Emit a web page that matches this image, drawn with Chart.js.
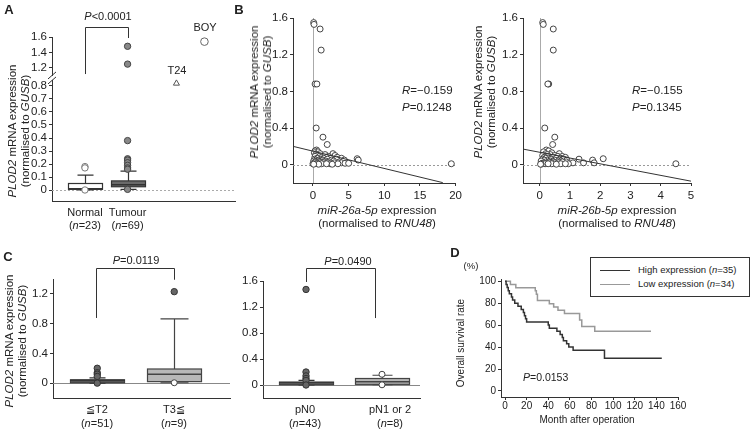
<!DOCTYPE html>
<html>
<head>
<meta charset="utf-8">
<script src="https://cdn.jsdelivr.net/npm/chart.js@4.4.1/dist/chart.umd.min.js"></script>
<style>
body { margin: 0; background: #fff; }
#wrap { position: relative; width: 752px; height: 432px; overflow: hidden; font-family: "Liberation Sans", Arial, sans-serif; color: #222; }
#wrap canvas { position: absolute; }
.tx { position: absolute; white-space: nowrap; line-height: 13px; text-align: center; }
#legend { position: absolute; left: 590px; top: 257px; width: 160px; height: 40px; border: 1px solid #333; box-sizing: border-box; }
#legend .ln { position: absolute; left: 9px; width: 30px; height: 0; }
#legend .lt { position: absolute; left: 47px; font-size: 9.5px; line-height: 11px; white-space: nowrap; }
</style>
</head>
<body>
<div id="wrap"><div id="legend"></div></div>
<script>
const FONT = '"Liberation Sans", Arial, sans-serif';
const INK = '#222';

// ---- A: PLOD2 normal vs tumour (+ cell lines) ----
const A_groups = ['Normal', 'Tumour'];
const A_n = [23, 69];
const A_q1 = [0.005, 0.025];
const A_med = [0.01, 0.04];
const A_q3 = [0.05, 0.07];
const A_lo = [0, 0.005];
const A_hi = [0.115, 0.145];
const A_outNormal = [0.18, 0.17, 0];
const A_outTumour = [1.48, 1.25, 0.38, 0.24, 0.23, 0.21, 0.19, 0.17, 0.16, 0.005];
const A_cells = ['T24', 'BOY'];
const A_cellVals = [0.82, 1.54];
const A_yTicks = [0, 0.1, 0.2, 0.3, 0.4, 0.5, 0.6, 0.7, 0.8, 1.2, 1.4, 1.6];

// ---- B: PLOD2 vs miR-26a-5p / miR-26b-5p ----
const B_plod2 = [1.55, 1.53, 1.48, 1.25, 0.88, 0.88, 0.40, 0.30, 0.22, 0.01, 0.065, 0.05,
  0.16, 0.15, 0.14, 0.13, 0.12, 0.12, 0.11, 0.11, 0.10, 0.10,
  0.09, 0.09, 0.09, 0.08, 0.08, 0.08, 0.07, 0.07, 0.07, 0.07,
  0.06, 0.06, 0.06, 0.06, 0.05, 0.05, 0.05, 0.05, 0.05, 0.04,
  0.04, 0.04, 0.04, 0.03, 0.03, 0.03, 0.03, 0.03, 0.03, 0.02,
  0.02, 0.02, 0.02, 0.02, 0.02, 0.02, 0.015, 0.015, 0.01, 0.01,
  0.01, 0.01, 0.01, 0.01, 0.005, 0.005, 0.005];
const B_mir26a = [0.1, 0.15, 1.0, 1.15, 0.3, 0.55, 0.45, 1.4, 2.0, 19.4, 6.2, 6.35,
  0.5, 0.3, 0.7, 0.2, 1.0, 2.8, 0.4, 1.7, 0.6, 3.1,
  0.9, 2.2, 0.3, 1.2, 1.9, 3.4, 0.6, 1.5, 2.5, 4.0,
  0.2, 1.1, 2.0, 3.3, 0.8, 1.4, 2.6, 0.4, 4.4, 1.8,
  0.1, 2.9, 0.7, 1.3, 0.3, 2.3, 3.7, 0.9, 1.6, 0.5,
  1.0, 2.1, 3.0, 4.0, 0.2, 1.5, 4.5, 5.0, 0.6, 1.2,
  2.4, 3.5, 0.0, 1.9, 0.8, 2.7, 0.1];
const B_mir26b = [0.1, 0.12, 0.45, 0.45, 0.3, 0.27, 0.17, 0.5, 0.43, 4.5, 2.1, 1.75,
  0.22, 0.3, 0.13, 0.4, 0.2, 0.65, 0.35, 0.25, 0.5, 0.1,
  0.6, 0.28, 0.75, 0.15, 0.45, 0.85, 0.3, 0.55, 0.7, 0.2,
  0.1, 0.38, 0.8, 1.3, 0.5, 0.9, 0.25, 0.65, 0.15, 0.42,
  0.35, 0.7, 0.05, 0.58, 0.2, 0.45, 0.88, 0.3, 0.75, 0.12,
  1.1, 1.8, 1.45, 0.5, 0.32, 0.62, 0.22, 0.08, 0.4, 0.95,
  0.18, 0.7, 0.28, 0.85, 0.05, 0.55, 0.03];
const B1_fitX = [-2.8, 18.2];
const B1_fitY = [0.2, -0.196];
const B2_fitX = [-0.55, 5];
const B2_fitY = [0.17, -0.18];
const B_yTicks = [0, 0.4, 0.8, 1.2, 1.6];
const B1_xTicks = [0, 5, 10, 15, 20];
const B2_xTicks = [0, 1, 2, 3, 4, 5];

// ---- C: T stage / N stage ----
const C1_groups = ['≦T2', 'T3≦'];
const C1_n = [51, 9];
const C1_q1 = [0.005, 0.02];
const C1_med = [0.02, 0.12];
const C1_q3 = [0.045, 0.19];
const C1_lo = [0, 0.005];
const C1_hi = [0.07, 0.865];
const C1_outDark = [[0.2, 0.14, 0.12, 0.09, 0], [1.23]];
const C1_outOpen = [[], [0.005]];
const C1_yTicks = [0, 0.4, 0.8, 1.2];

const C2_groups = ['pN0', 'pN1 or 2'];
const C2_n = [43, 8];
const C2_q1 = [0.005, 0.01];
const C2_med = [0.02, 0.05];
const C2_q3 = [0.045, 0.1];
const C2_lo = [0, 0.005];
const C2_hi = [0.07, 0.15];
const C2_outDark = [[1.47, 0.2, 0.14, 0.1, 0.07, 0], []];
const C2_outOpen = [[], [0.165, 0.003]];
const C2_yTicks = [0, 0.4, 0.8, 1.2, 1.6];

// ---- D: overall survival ----
const D_highT = [0, 1, 2, 3, 4, 6, 7, 9, 12, 15, 17, 18, 19, 20, 40, 41, 48, 51, 53, 54, 57, 59, 63, 92, 145];
const D_highS = [100, 97.1, 94.3, 91.4, 88.6, 85.7, 82.9, 80, 77.1, 74.3, 71.4, 68.6, 65.7, 62.9, 60, 57.1, 54.3, 51.4, 48.6, 45.7, 42.9, 40, 37.1, 29.7, 29.7];
const D_lowT = [0, 5, 10, 28, 29, 30, 41, 45, 49, 55, 69, 71, 83, 135];
const D_lowS = [100, 97.1, 94.1, 91.2, 88.2, 82.4, 79.4, 76.5, 73.5, 70.6, 64.7, 58.8, 54.5, 54.5];
const D_xTicks = [0, 20, 40, 60, 80, 100, 120, 140, 160];
const D_yTicks = [0, 20, 40, 60, 80, 100];

// layout helpers (x positions of groups on each panel's 0..10 axis)
const A_pos = [1.8, 4.13, 6.8, 8.33];
const C1_pos = [2.5, 6.85];
const C2_pos = [2.74, 7.58];

// broken axis in A: values above the break are compressed
function brk(v) { return v <= 1 ? v : 0.9385 + (v - 1.2) * 0.596; }

Chart.defaults.font.family = FONT;
Chart.defaults.color = INK;
Chart.defaults.animation = false;
Chart.defaults.plugins.legend.display = false;
Chart.defaults.plugins.tooltip.enabled = false;

const refLines = {
  id: 'refLines',
  beforeDatasetsDraw(chart, args, opts) {
    const { ctx, chartArea: a } = chart;
    const x = chart.scales.x, y = chart.scales.y;
    ctx.save();
    (opts.h || []).forEach(l => {
      const py = Math.round(y.getPixelForValue(l.y)) + 0.5;
      ctx.strokeStyle = l.color; ctx.lineWidth = 1; ctx.setLineDash(l.dash || []);
      ctx.beginPath(); ctx.moveTo(a.left, py); ctx.lineTo(a.right, py); ctx.stroke();
    });
    (opts.v || []).forEach(l => {
      const px = Math.round(x.getPixelForValue(l.x)) + 0.5;
      ctx.strokeStyle = l.color; ctx.lineWidth = 1; ctx.setLineDash(l.dash || []);
      ctx.beginPath(); ctx.moveTo(px, a.bottom); ctx.lineTo(px, a.top); ctx.stroke();
    });
    ctx.restore();
  }
};

const boxes = {
  id: 'boxes',
  beforeDatasetsDraw(chart, args, opts) {
    const { ctx } = chart;
    const x = chart.scales.x, y = chart.scales.y;
    (opts.items || []).forEach(b => {
      const cx = Math.round(x.getPixelForValue(b.x)) + 0.5;
      const yq1 = y.getPixelForValue(b.q1), yq3 = y.getPixelForValue(b.q3);
      const ylo = y.getPixelForValue(b.lo), yhi = y.getPixelForValue(b.hi);
      const ym = y.getPixelForValue(b.med);
      ctx.save();
      ctx.strokeStyle = b.stroke; ctx.lineWidth = 1.2;
      ctx.beginPath();
      ctx.moveTo(cx, yq3); ctx.lineTo(cx, yhi);
      ctx.moveTo(cx - b.cap / 2, yhi); ctx.lineTo(cx + b.cap / 2, yhi);
      ctx.moveTo(cx, yq1); ctx.lineTo(cx, ylo);
      ctx.moveTo(cx - b.cap / 2, ylo); ctx.lineTo(cx + b.cap / 2, ylo);
      ctx.stroke();
      ctx.fillStyle = b.fill;
      ctx.fillRect(cx - b.w / 2, yq3, b.w, yq1 - yq3);
      ctx.strokeRect(cx - b.w / 2, yq3, b.w, yq1 - yq3);
      ctx.strokeStyle = b.medColor; ctx.lineWidth = 1.5;
      ctx.beginPath(); ctx.moveTo(cx - b.w / 2, ym); ctx.lineTo(cx + b.w / 2, ym); ctx.stroke();
      ctx.restore();
    });
  }
};

const bracket = {
  id: 'bracket',
  afterDraw(chart, args, b) {
    if (b.x1 === undefined) return;
    const { ctx } = chart;
    const x = chart.scales.x, y = chart.scales.y;
    const x1 = Math.round(x.getPixelForValue(b.x1)) + 0.5, x2 = Math.round(x.getPixelForValue(b.x2)) + 0.5;
    const yt = Math.round(y.getPixelForValue(b.top)) + 0.5;
    ctx.save();
    ctx.strokeStyle = '#333'; ctx.lineWidth = 1;
    ctx.beginPath();
    ctx.moveTo(x1, y.getPixelForValue(b.y1)); ctx.lineTo(x1, yt);
    ctx.lineTo(x2, yt); ctx.lineTo(x2, y.getPixelForValue(b.y2));
    ctx.stroke();
    ctx.restore();
  }
};

const axisBreak = {
  id: 'axisBreak',
  afterDraw(chart, args, o) {
    if (o.at === undefined) return;
    const { ctx, chartArea: a } = chart;
    const py = chart.scales.y.getPixelForValue(o.at);
    ctx.save();
    ctx.fillStyle = '#fff';
    ctx.fillRect(a.left - 3, py - 2, 6, 4);
    ctx.strokeStyle = '#333'; ctx.lineWidth = 1;
    ctx.beginPath();
    ctx.moveTo(a.left - 4, py + 1); ctx.lineTo(a.left + 4, py - 6);
    ctx.moveTo(a.left - 4, py + 6); ctx.lineTo(a.left + 4, py - 1);
    ctx.stroke();
    ctx.restore();
  }
};

Chart.register(refLines, boxes, bracket, axisBreak);

const wrap = document.getElementById('wrap');

function makeChart(left, top, w, h, config) {
  const c = document.createElement('canvas');
  c.width = w; c.height = h;
  c.style.left = left + 'px'; c.style.top = top + 'px';
  c.style.width = w + 'px'; c.style.height = h + 'px';
  wrap.appendChild(c);
  config.options.responsive = false;
  config.options.devicePixelRatio = 1;
  return new Chart(c, config);
}

function yAxis(min, max, ticks, width, size, labels) {
  return {
    type: 'linear', min, max,
    afterFit: s => { s.width = width; },
    afterBuildTicks: s => { s.ticks = ticks.map(v => ({ value: v })); },
    ticks: {
      font: { size }, color: INK, padding: 2, autoSkip: false,
      callback: (v, i) => labels ? labels[i] : String(ticks[i])
    },
    grid: { display: true, drawOnChartArea: false, drawTicks: true, tickLength: 3, color: '#333' },
    border: { display: true, color: '#333', width: 1 }
  };
}

function xAxis(min, max, ticks, height, size, pad) {
  const ax = {
    type: 'linear', min, max,
    afterFit: s => { s.height = height; },
    border: { display: true, color: '#333', width: 1 }
  };
  if (ticks) {
    ax.afterBuildTicks = s => { s.ticks = ticks.map(v => ({ value: v })); };
    ax.ticks = { font: { size }, color: INK, padding: pad, maxRotation: 0, autoSkip: false, callback: (v, i) => String(ticks[i]) };
    ax.grid = { display: true, drawOnChartArea: false, drawTicks: true, tickLength: 3, color: '#333' };
  } else {
    ax.ticks = { display: false };
    ax.grid = { display: false };
  }
  return ax;
}

function pts(xv, ys) { return ys.map(v => ({ x: xv, y: v })); }

// ---------- A ----------
makeChart(0, 0, 240, 215, {
  type: 'scatter',
  data: {
    datasets: [
      { data: pts(A_pos[0], A_outNormal.map(brk)), pointRadius: 3.2, borderColor: '#777', backgroundColor: '#fff', borderWidth: 1 },
      { data: pts(A_pos[1], A_outTumour.map(brk)), pointRadius: 3.2, borderColor: '#444', backgroundColor: '#888', borderWidth: 1 },
      { data: [{ x: A_pos[2], y: brk(A_cellVals[0]) }], pointStyle: 'triangle', pointRadius: 3.5, borderColor: '#555', backgroundColor: '#fff', borderWidth: 1 },
      { data: [{ x: A_pos[3], y: brk(A_cellVals[1]) }], pointRadius: 3.8, borderColor: '#666', backgroundColor: '#fff', borderWidth: 1 }
    ]
  },
  options: {
    layout: { padding: { top: 37, right: 5, bottom: 0, left: 0 } },
    scales: {
      x: xAxis(0, 10, null, 14),
      y: yAxis(-0.0846, brk(1.6), A_yTicks.map(brk), 52, 11.5, A_yTicks.map(String))
    },
    plugins: {
      refLines: { h: [{ y: 0, color: '#aaa', dash: [2, 2] }] },
      boxes: {
        items: [0, 1].map(i => ({
          x: A_pos[i], q1: A_q1[i], med: A_med[i], q3: A_q3[i], lo: A_lo[i], hi: A_hi[i],
          w: 34, cap: 16, fill: i ? '#6a6a6a' : '#fff', stroke: '#333', medColor: '#333'
        }))
      },
      bracket: { x1: A_pos[0], x2: A_pos[1], y1: 0.892, y2: 1.169, top: 1.254 },
      axisBreak: { at: 0.862 }
    }
  }
});

// ---------- B ----------
function scatterB(left, w, yW, padR, xs, fx, fy, xmin, xmax, xt) {
  return makeChart(left, 0, w, 205, {
    type: 'scatter',
    data: {
      datasets: [
        { data: fx.map((v, i) => ({ x: v, y: fy[i] })), showLine: true, pointRadius: 0, borderColor: '#333', borderWidth: 1 },
        { data: xs.map((v, i) => ({ x: v, y: B_plod2[i] })), pointRadius: 3, borderColor: '#444', backgroundColor: '#fff', borderWidth: 1 }
      ]
    },
    options: {
      layout: { padding: { top: 18, right: padR, bottom: 5, left: 0 } },
      scales: {
        x: xAxis(xmin, xmax, xt, 17, 11.5, 3),
        y: yAxis(-0.2, 1.6, B_yTicks, yW, 11.5)
      },
      plugins: {
        refLines: { h: [{ y: 0, color: '#999', dash: [2, 2] }], v: [{ x: 0, color: '#aaa' }] }
      }
    }
  });
}
scatterB(240, 225, 53, 8, B_mir26a, B1_fitX, B1_fitY, -2.8, 20, B1_xTicks);
scatterB(495, 257, 28, 61, B_mir26b, B2_fitX, B2_fitY, -0.55, 5, B2_xTicks);

// ---------- C ----------
function boxChart(left, w, yW, padTop, ymax, yt, pos, q1, med, q3, lo, hi, outDark, outOpen, caps, br) {
  const ds = [];
  [0, 1].forEach(i => {
    ds.push({ data: pts(pos[i], outDark[i]), pointRadius: 3.2, borderColor: '#333', backgroundColor: '#666', borderWidth: 1 });
    ds.push({ data: pts(pos[i], outOpen[i]), pointRadius: 3, borderColor: '#444', backgroundColor: '#fff', borderWidth: 1 });
  });
  return makeChart(left, 240, w, 192, {
    type: 'scatter',
    data: { datasets: ds },
    options: {
      layout: { padding: { top: padTop, right: 10, bottom: 0, left: 0 } },
      scales: {
        x: xAxis(0, 10, null, 34),
        y: yAxis(-0.2, ymax, yt, yW, 11.5)
      },
      plugins: {
        refLines: { h: [{ y: 0, color: '#888' }] },
        boxes: {
          items: [0, 1].map(i => ({
            x: pos[i], q1: q1[i], med: med[i], q3: q3[i], lo: lo[i], hi: hi[i],
            w: 54, cap: caps[i], fill: i ? '#b8b8b8' : '#3a3a3a', stroke: i ? '#444' : '#333', medColor: i ? '#444' : '#555'
          }))
        },
        bracket: br
      }
    }
  });
}
boxChart(0, 240, 53, 39, 1.4, C1_yTicks, C1_pos, C1_q1, C1_med, C1_q3, C1_lo, C1_hi, C1_outDark, C1_outOpen,
  [16, 28], { x1: 2.45, x2: 6.85, y1: 0.876, y2: 1.39, top: 1.55 });
boxChart(240, 190, 23, 41, 1.6, C2_yTicks, C2_pos, C2_q1, C2_med, C2_q3, C2_lo, C2_hi, C2_outDark, C2_outOpen,
  [16, 20], { x1: 2.74, x2: 7.13, y1: 1.585, y2: 1.03, top: 1.8 });

// ---------- D ----------
makeChart(460, 240, 292, 192, {
  type: 'scatter',
  data: {
    datasets: [
      { data: D_highT.map((t, i) => ({ x: t, y: D_highS[i] })), showLine: true, stepped: true, pointRadius: 0, borderColor: '#333', borderWidth: 1.5 },
      { data: D_lowT.map((t, i) => ({ x: t, y: D_lowS[i] })), showLine: true, stepped: true, pointRadius: 0, borderColor: '#999', borderWidth: 1.5 }
    ]
  },
  options: {
    layout: { padding: { top: 39, right: 74, bottom: 15, left: 0 } },
    scales: {
      x: xAxis(-3.7, 160, D_xTicks, 20, 10, 0),
      y: yAxis(-5.5, 102, D_yTicks, 41, 10)
    }
  }
});

// ---------- text ----------
function label(html, x, y, o = {}) {
  const d = document.createElement('div');
  d.className = 'tx';
  d.innerHTML = html;
  d.style.left = x + 'px';
  d.style.top = y + 'px';
  d.style.fontSize = (o.size || 11.5) + 'px';
  if (o.bold) d.style.fontWeight = 'bold';
  let tr = o.left ? 'translate(0,-50%)' : 'translate(-50%,-50%)';
  if (o.rot) tr += ' rotate(-90deg)';
  d.style.transform = tr;
  wrap.appendChild(d);
}
const yTitle = '<i>PLOD2</i> mRNA expression<br>(normalised to <i>GUSB</i>)';

label('A', 9, 9, { bold: true, size: 13 });
label('<i>P</i>&lt;0.0001', 108, 16, { size: 11 });
label(A_cells[1], 205, 27, { size: 11 });
label(A_cells[0], 177, 70, { size: 11 });
A_groups.forEach((g, i) => {
  const px = 52 + A_pos[i] * 18.3;
  label(g, px, 212, { size: 11 });
  label('(<i>n</i>=' + A_n[i] + ')', px, 225, { size: 11 });
});
label(yTitle, 19, 131, { rot: true });

label('B', 239, 9, { bold: true, size: 13 });
label(yTitle, 261, 92, { rot: true });
label(yTitle, 485, 92, { rot: true });
label('<i>R</i>=−0.159', 402, 90, { left: true });
label('<i>P</i>=0.1248', 402, 107, { left: true });
label('<i>R</i>=−0.155', 632, 90, { left: true });
label('<i>P</i>=0.1345', 632, 107, { left: true });
label('<i>miR-26a-5p</i> expression<br>(normalised to <i>RNU48</i>)', 377, 217);
label('<i>miR-26b-5p</i> expression<br>(normalised to <i>RNU48</i>)', 617, 217);

label('C', 8, 256, { bold: true, size: 13 });
label(yTitle, 16, 341, { rot: true });
label('<i>P</i>=0.0119', 136, 260, { size: 11 });
label('<i>P</i>=0.0490', 348, 261, { size: 11 });
[[C1_groups, C1_n, [97, 174]], [C2_groups, C2_n, [305, 390]]].forEach(([gs, ns, xs]) => {
  gs.forEach((g, i) => {
    label(g, xs[i], 409, { size: 11 });
    label('(<i>n</i>=' + ns[i] + ')', xs[i], 423, { size: 11 });
  });
});

label('D', 455, 252, { bold: true, size: 13 });
label('(%)', 471, 265, { size: 9.5 });
label('Overall survival rate', 460, 343, { rot: true, size: 10 });
label('Month after operation', 587, 419, { size: 10 });
label('<i>P</i>=0.0153', 523, 377, { left: true, size: 10.5 });

const leg = document.getElementById('legend');
[['High expression (<i>n</i>=35)', '#333', 12], ['Low expression (<i>n</i>=34)', '#999', 26]].forEach(([t, c, y]) => {
  const l = document.createElement('div');
  l.className = 'ln'; l.style.top = y + 'px'; l.style.borderTop = '1.5px solid ' + c;
  leg.appendChild(l);
  const s = document.createElement('div');
  s.className = 'lt'; s.style.top = (y - 6) + 'px'; s.innerHTML = t;
  leg.appendChild(s);
});
</script>
</body>
</html>
